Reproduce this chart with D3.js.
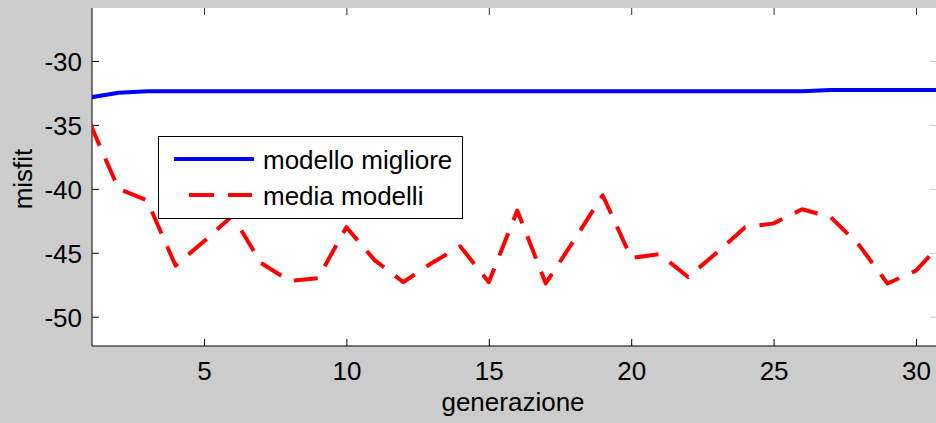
<!DOCTYPE html>
<html>
<head>
<meta charset="utf-8">
<script src="https://cdn.jsdelivr.net/npm/d3@7"></script>
<style>
  html, body { margin: 0; padding: 0; background: #cccccc; }
  svg { display: block; }
  text { font-family: "Liberation Sans", Arial, sans-serif; fill: #000; }
</style>
</head>
<body>
<svg id="chart" width="936" height="423"></svg>
<script>
// ---- data ----
const generations = d3.range(1, 32); // 1..31
const bestModel = [-32.85, -32.48, -32.37, -32.37, -32.37, -32.37, -32.37, -32.37, -32.37, -32.37,
                   -32.37, -32.37, -32.37, -32.37, -32.37, -32.37, -32.37, -32.37, -32.37, -32.37,
                   -32.37, -32.37, -32.37, -32.37, -32.37, -32.37, -32.27, -32.27, -32.27, -32.27, -32.27];
const meanModels = [-34.9, -40.0, -40.9, -46.0, -44.1, -42.1, -45.8, -47.2, -47.0, -43.0,
                    -45.6, -47.3, -45.8, -44.5, -47.3, -41.7, -47.4, -44.0, -40.5, -45.4,
                    -45.1, -46.9, -45.0, -43.0, -42.7, -41.6, -42.2, -44.4, -47.4, -46.4, -44.0];
const xTicks = [5, 10, 15, 20, 25, 30];
const yTicks = [-30, -35, -40, -45, -50];
const legendLabels = ["modello migliore", "media modelli"];
const xLabel = "generazione";
const yLabel = "misfit";

// ---- layout ----
const svg = d3.select("#chart");
const L = 92, R = 937, T = 8, B = 346;
const x = d3.scaleLinear().domain([5, 30]).range([204, 916]);
const y = d3.scaleLinear().domain([-30, -50]).range([61, 316.7]);
const FS = 26;

// plot background
svg.append("rect").attr("x", L).attr("y", T).attr("width", R - L).attr("height", B - T).attr("fill", "#ffffff");

svg.append("defs").append("clipPath").attr("id", "clip")
  .append("rect").attr("x", L).attr("y", T).attr("width", R - L).attr("height", B - T);

// axes
const gx = svg.append("g").attr("transform", `translate(0,${B})`)
  .call(d3.axisBottom(x).tickValues(xTicks).tickSize(-7).tickPadding(16).tickFormat(d3.format("d")));
const gy = svg.append("g").attr("transform", `translate(${L},0)`)
  .call(d3.axisLeft(y).tickValues(yTicks).tickSize(-7).tickPadding(10).tickFormat(d => d3.format("d")(d).replace("−", "-")));
const gxt = svg.append("g").attr("transform", `translate(0,${T})`)
  .call(d3.axisTop(x).tickValues(xTicks).tickSize(-7).tickFormat(""));
const gyr = svg.append("g").attr("transform", `translate(${R},0)`)
  .call(d3.axisRight(y).tickValues(yTicks).tickSize(-7).tickFormat(""));

[gx, gy, gxt, gyr].forEach(g => {
  g.select(".domain").remove();
  g.selectAll(".tick line").attr("stroke", "#000").attr("stroke-width", 1);
  g.selectAll("text").attr("font-size", FS).attr("font-family", "Liberation Sans, Arial, sans-serif").attr("fill", "#000");
});
gxt.selectAll(".tick line").attr("stroke", "#333");
gyr.selectAll(".tick line").attr("stroke", "#c8c8c8");
gx.selectAll("text").attr("dy", "0.71em");
gy.selectAll("text").attr("dy", "0.36em");

// axis lines
svg.append("line").attr("x1", L).attr("x2", L).attr("y1", T).attr("y2", B).attr("stroke", "#000");
svg.append("line").attr("x1", L).attr("x2", R).attr("y1", B).attr("y2", B).attr("stroke", "#000");

// series
const plot = svg.append("g").attr("clip-path", "url(#clip)");
const lineBest = d3.line().x((d, i) => x(generations[i])).y(d => y(d));
plot.append("path").datum(bestModel).attr("d", lineBest)
  .attr("fill", "none").attr("stroke", "#0000ff").attr("stroke-width", 4).attr("stroke-linejoin", "round");
plot.append("path").datum(meanModels).attr("d", lineBest)
  .attr("fill", "none").attr("stroke", "#ff0000").attr("stroke-width", 4)
  .attr("stroke-dasharray", "24,14").attr("stroke-linejoin", "round");

// legend
const lg = svg.append("g");
lg.append("rect").attr("x", 158.5).attr("y", 136.5).attr("width", 304).attr("height", 82)
  .attr("fill", "#fff").attr("stroke", "#000").attr("stroke-width", 1);
lg.append("line").attr("x1", 174).attr("x2", 254).attr("y1", 159).attr("y2", 159)
  .attr("stroke", "#0000ff").attr("stroke-width", 4);
lg.append("line").attr("x1", 189).attr("x2", 252).attr("y1", 195).attr("y2", 195)
  .attr("stroke", "#ff0000").attr("stroke-width", 4).attr("stroke-dasharray", "25,14");
lg.append("text").attr("x", 263).attr("y", 169).attr("font-size", FS).text(legendLabels[0]);
lg.append("text").attr("x", 263).attr("y", 205).attr("font-size", FS).text(legendLabels[1]);

// axis labels
svg.append("text").attr("x", 513).attr("y", 411).attr("text-anchor", "middle").attr("font-size", FS).text(xLabel);
svg.append("text").attr("transform", "translate(32,179) rotate(-90)").attr("text-anchor", "middle")
  .attr("font-size", FS).text(yLabel);
</script>
</body>
</html>
